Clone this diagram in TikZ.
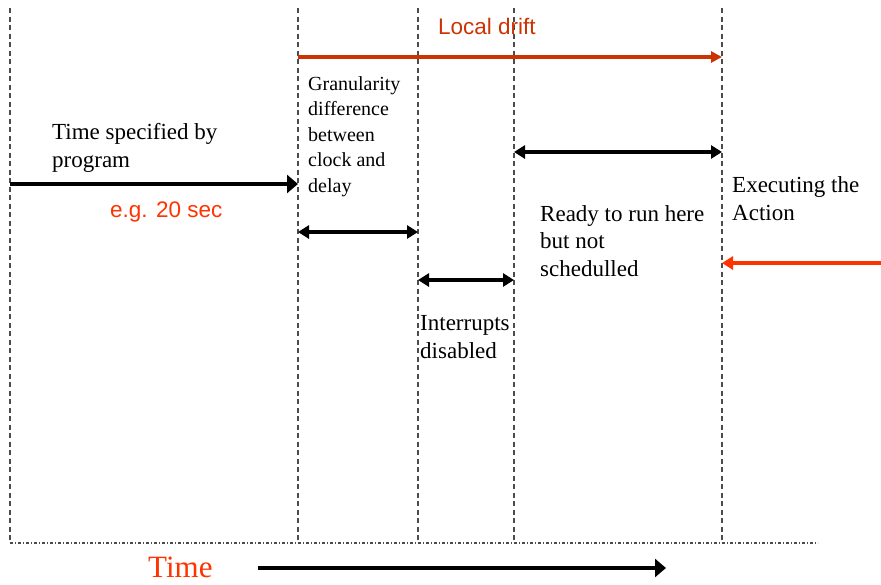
\documentclass[tikz,border=0pt]{standalone}
\usepackage{fontspec}
\setmainfont{Liberation Serif}
\setsansfont{Liberation Sans}
\usetikzlibrary{arrows.meta}
\definecolor{drift}{HTML}{CC3300}
\definecolor{hot}{HTML}{FF3300}
\begin{document}
\begin{tikzpicture}[x=1pt,y=-1pt]
\tikzset{guide/.style={dash pattern=on 5pt off 3.5pt, line width=1.3pt, black!70},
  base/.style={dash pattern=on 3pt off 2pt on 1pt off 2pt, line width=1.3pt, black!70},
  txt/.style={anchor=base west, inner sep=0pt, align=left, font=\fontsize{23}{27.5}\selectfont},
  small/.style={txt, font=\fontsize{20}{25.5}\selectfont},
  tag/.style={anchor=base west, inner sep=0pt, font=\sffamily\fontsize{22.5}{27}\selectfont},
  span/.style={{Triangle[length=11pt,width=13pt]}-{Triangle[length=11pt,width=13pt]}, line width=3.5pt},
  go/.style={-{Triangle[length=11pt,width=18pt]}, line width=4pt}}
\useasboundingbox (0,0) rectangle (881,584);

  % time marks
  \foreach \n/\x in {0/10,1/298,2/418,3/514,4/722}{
    \coordinate (top\n) at (\x,8);
    \coordinate (bot\n) at (\x,543);
    \draw[guide] (top\n) -- (bot\n);}
  \coordinate (baseend) at (818,543);
  \draw[base] (bot0) -- (baseend);

  % texts (placed at the baseline of their last line)
  \draw (52,167) node[txt](spec) {Time specified by\\program};
  \draw (110,217) node[tag, hot](eg) {e.g. 20 sec};
  \draw (308,192) node[small](gran) {Granularity\\difference\\between\\clock and\\delay};
  \draw (438,34) node[tag, drift](drift) {Local drift};
  \draw (540,276) node[txt](ready) {Ready to run here\\but not\\schedulled};
  \draw (732,220) node[txt](exec) {Executing the\\Action};
  \draw (420,358) node[txt](intr) {Interrupts\\disabled};
  \draw (148,577) node[txt, hot, font=\fontsize{31}{36}\selectfont](time) {Time};

  \coordinate (s0) at (10,184);   \coordinate (s1) at (298,184);
  \coordinate (l0) at (298,57);   \coordinate (l1) at (722,57);
  \coordinate (g0) at (298,232);  \coordinate (g1) at (418,232);
  \coordinate (i0) at (418,280);  \coordinate (i1) at (514,280);
  \coordinate (r0) at (514,152);  \coordinate (r1) at (722,152);
  \coordinate (e0) at (722,263);  \coordinate (e1) at (881,263);
  \coordinate (t0) at (258,568);  \coordinate (t1) at (666,568);

	\draw[go] (s0) -- (s1);
	\draw[-{Triangle[length=11pt,width=11pt]}, drift, line width=3.5pt] (l0) -- (l1);
	\draw[span] (g0) -- (g1);
	\draw[span] (i0) -- (i1);
	\draw[span] (r0) -- (r1);
	\draw[{Triangle[length=11pt,width=13pt]}-, hot, line width=4pt] (e0) -- (e1);
	\draw[go, line width=4.5pt] (t0) -- (t1);
\end{tikzpicture}
\end{document}
